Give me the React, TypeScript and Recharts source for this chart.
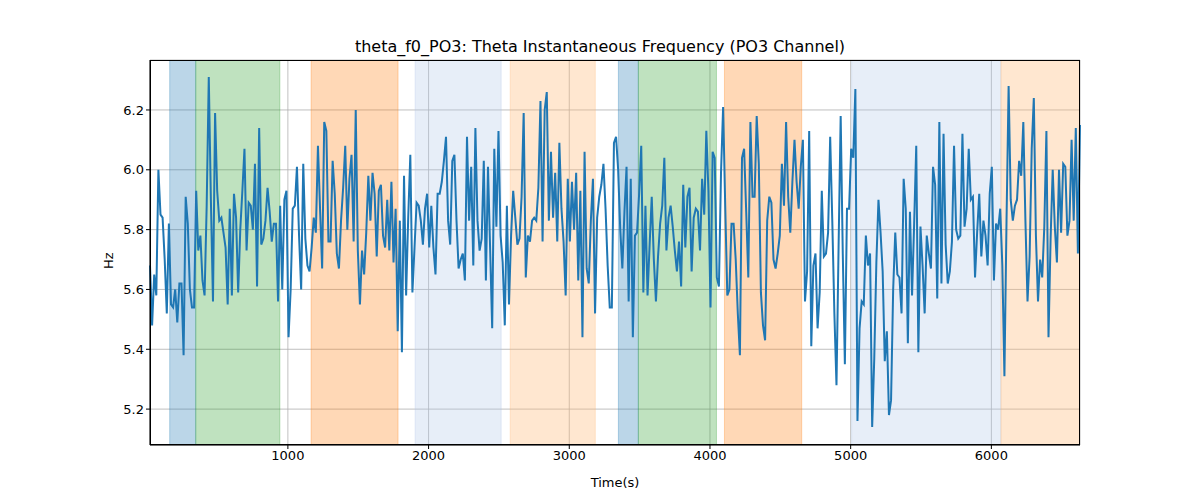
import React from "react";
import { ComposedChart, Line, XAxis, YAxis, CartesianGrid, ReferenceArea } from "recharts";

const T_START = 20;
const T_END = 6630;

const hz = [
  5.68, 5.48, 5.65, 5.58, 6.0, 5.85, 5.84, 5.7, 5.52, 5.82, 5.55, 5.54, 5.6, 5.49, 5.62, 5.62, 5.38, 5.91, 5.82, 5.6,
  5.54, 5.54, 5.93, 5.73, 5.78, 5.63, 5.58, 5.88, 6.31, 5.9, 5.56, 6.19, 5.93, 5.83, 5.84, 5.79, 5.74, 5.55, 5.87, 5.58,
  5.92, 5.84, 5.59, 5.8, 5.93, 6.07, 5.73, 5.89, 5.88, 5.8, 6.02, 5.61, 6.14, 5.75, 5.77, 5.83, 5.94, 5.86, 5.76, 5.82,
  5.82, 5.56, 5.88, 5.6, 5.9, 5.93, 5.44, 5.6, 5.87, 5.88, 6.01, 5.78, 5.6, 6.02, 5.77, 5.68,
  5.66, 5.74, 5.84, 5.79, 6.08, 5.87, 5.67, 6.16, 6.13, 5.76, 5.76, 6.03, 5.92, 5.72, 5.67, 5.83, 5.94, 6.08, 5.8, 5.97,
  6.05, 5.76, 6.2, 5.73, 5.55, 5.73, 5.65, 5.79, 5.98, 5.83, 5.99, 5.92, 5.71, 5.93, 5.95, 5.78, 5.74, 5.9, 5.73, 5.96,
  5.69, 5.87, 5.46, 5.83, 5.39, 5.98, 5.58, 5.84, 6.05, 5.59, 5.74, 5.89, 5.88, 5.83, 5.75, 5.87, 5.92, 5.74, 5.88, 5.74,
  5.65, 5.92, 5.92, 5.96, 6.03, 6.11, 5.83, 5.75, 6.03, 6.05, 5.83, 5.67,
  5.7, 5.72, 5.63, 6.11, 5.83, 6.01, 5.68, 6.14, 5.83, 5.73, 5.77, 6.03, 5.63, 6.01, 5.74, 5.47, 6.07, 5.81, 6.13, 5.78,
  5.69, 5.48, 5.88, 5.55, 5.78, 5.93, 5.84, 5.75, 5.77, 5.91, 6.19, 5.64, 5.78, 5.76, 5.83, 5.84, 5.83, 5.94, 6.23, 5.76,
  6.2, 6.26, 5.83, 6.06, 5.84, 5.99, 5.76, 6.09, 5.87, 5.76, 5.58, 5.97, 5.76, 5.96, 5.8, 5.99, 5.63, 5.93, 5.44, 6.06,
  5.67, 5.62, 5.83, 5.97, 5.52, 5.84, 5.91, 5.95, 6.02, 5.87, 5.68, 5.54,
  5.54, 6.09, 6.11, 6.0, 5.8, 5.67, 5.86, 6.01, 5.56, 5.97, 5.44, 5.78, 5.79, 5.92, 6.08, 5.59, 5.88, 5.58, 5.75, 5.91,
  5.7, 5.56, 5.71, 5.82, 5.88, 6.04, 5.73, 5.84, 5.88, 5.81, 5.73, 5.66, 5.76, 5.61, 5.95, 5.74, 5.91, 5.94, 5.66, 5.84,
  5.87, 5.86, 5.73, 5.97, 5.85, 6.13, 5.93, 5.54, 6.06, 6.04, 5.64, 5.61, 5.99, 6.21, 5.88, 5.58, 5.6, 5.82, 5.82, 5.7,
  5.52, 5.38, 6.04, 6.07, 5.86, 5.64, 6.16, 5.91, 5.91, 6.18, 6.02, 5.59,
  5.48, 5.43, 5.83, 5.91, 5.89, 5.7, 5.67, 5.72, 5.78, 6.02, 5.88, 6.16, 5.91, 5.79, 5.96, 6.1, 5.96, 5.87, 6.01, 6.1,
  5.56, 5.66, 6.13, 5.41, 5.68, 5.72, 5.47, 5.59, 5.93, 5.71, 5.72, 5.79, 6.11, 5.83, 5.52, 5.28, 5.74, 6.18, 5.72, 5.35,
  5.87, 5.87, 6.07, 6.04, 6.27, 5.16, 5.47, 5.56, 5.55, 5.78, 5.68, 5.72, 5.14, 5.37, 5.69, 5.9, 5.79, 5.66, 5.36, 5.46,
  5.18, 5.23, 5.6, 5.79, 5.65, 5.64, 5.52, 5.97, 5.87, 5.42, 5.86, 5.58, 5.82, 6.08, 5.39, 5.81, 5.68,
  5.52, 5.78, 5.72, 5.67, 6.01, 5.95, 5.57, 6.16, 5.62, 6.12, 5.75, 5.62, 5.66, 5.76, 6.08, 5.8, 5.77, 5.78, 6.12, 5.81,
  5.87, 6.07, 5.9, 5.91, 5.64, 5.79, 5.92, 5.71, 5.83, 5.78, 5.68, 5.92, 6.01, 5.63, 5.82, 5.8, 5.87, 5.68, 5.31, 5.83,
  6.28, 5.9, 5.83, 5.88, 5.9, 6.03, 5.98, 6.16, 5.83, 5.56, 5.71, 6.07, 6.24, 5.78, 5.56, 5.7, 5.64, 5.81, 6.13, 5.44,
  5.77, 6.0, 5.81, 5.69, 6.0, 5.79, 6.02, 6.01, 5.78, 5.83, 6.1, 5.83, 6.14, 5.72, 6.15,
];

const spanStart = [160, 345, 1165, 1904, 2580, 3349, 3491, 4103, 5007, 6068];
const spanEnd = [345, 943, 1783, 2516, 3185, 3491, 4046, 4652, 6068, 6630];
const spanColor = ["#1f77b4", "#2ca02c", "#ff7f0e", "#aec7e8", "#ffbb78", "#1f77b4", "#2ca02c", "#ff7f0e", "#aec7e8", "#ffbb78"];
const spanOpacity = [0.3, 0.3, 0.3, 0.3, 0.35, 0.3, 0.3, 0.3, 0.3, 0.35];

const xTicks = [1000, 2000, 3000, 4000, 5000, 6000];
const yTicks = [5.2, 5.4, 5.6, 5.8, 6.0, 6.2];

const step = (T_END - T_START) / (hz.length - 1);
const data = hz.map((v, i) => ({ t: T_START + i * step, v }));

export default function App() {
  return (
    <div style={{ position: "absolute", left: 0, top: 0, width: 1200, height: 500, background: "#fff", fontFamily: "DejaVu Sans" }}>
      <div style={{ position: "absolute", top: 37, width: 1200, textAlign: "center", fontSize: 16 }}>
        theta_f0_PO3: Theta Instantaneous Frequency (PO3 Channel)
      </div>
      <ComposedChart width={1200} height={500} data={data} margin={{ top: 60, right: 120, bottom: 0, left: 0 }}>
        {spanStart.map((s, i) => (
          <ReferenceArea key={i} x1={s} x2={spanEnd[i]} fill={spanColor[i]} fillOpacity={spanOpacity[i]} stroke={spanColor[i]} strokeOpacity={0.3} ifOverflow="hidden" />
        ))}
        <CartesianGrid stroke="#b0b0b0" strokeWidth={0.8} />
        <XAxis
          dataKey="t"
          type="number"
          domain={[T_START, T_END]}
          ticks={xTicks}
          height={55}
          tick={{ fill: "#000", fontSize: 13 }}
          stroke="#000"
          tickSize={4}
          label={{ value: "Time(s)", position: "insideBottom", offset: 13, fill: "#000", fontSize: 13 }}
        />
        <YAxis
          type="number"
          domain={[5.08, 6.367]}
          ticks={yTicks}
          width={150}
          tickFormatter={(v: number) => v.toFixed(1)}
          tick={{ fill: "#000", fontSize: 13 }}
          stroke="#000"
          tickSize={4}
          label={{ value: "Hz", angle: -90, position: "insideRight", offset: 42, fill: "#000", fontSize: 13 }}
        />
        <Line dataKey="v" stroke="#1f77b4" strokeWidth={2} dot={false} isAnimationActive={false} />
      </ComposedChart>
      <div style={{ position: "absolute", left: 150, top: 60, width: 930, height: 385, border: "1px solid #000", boxSizing: "border-box", pointerEvents: "none" }} />
    </div>
  );
}
